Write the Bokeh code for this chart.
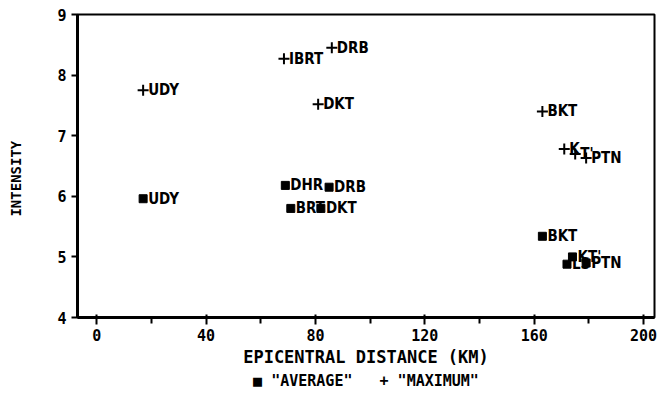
from bokeh.plotting import figure
from bokeh.models import ColumnDataSource, FixedTicker, Title
from bokeh.core.properties import value
from bokeh.embed import file_html
from bokeh.resources import INLINE

# Average intensity per station
avg_station = ["UDY", "DHR", "DRB", "BRT", "DKT", "BKT", "LS", "KT'", "PTN"]
avg_dist = [17, 69, 85, 71, 82, 163, 172, 174, 179]
avg_int = [5.96, 6.18, 6.15, 5.80, 5.80, 5.34, 4.88, 5.00, 4.90]

# Maximum intensity per station
max_station = ["UDY", "IBRT", "DRB", "DKT", "BKT", "K", "T'", "PTN"]
max_dist = [17, 68.5, 86, 81, 163, 171, 175, 179]
max_int = [7.75, 8.27, 8.45, 7.52, 7.40, 6.78, 6.70, 6.63]

x_ticks = [0, 40, 80, 120, 160, 200]
x_minor = [20, 60, 100, 140, 180]
y_ticks = [4, 5, 6, 7, 8, 9]

NB = "\u00a0"
key_text = "\u25a0" + NB + '"AVERAGE"' + NB * 3 + "+" + NB + '"MAXIMUM"'
y_title = "INTENSITY" + NB * 3

FONT = "DejaVu Sans Condensed"
MONO = "DejaVu Sans Mono"

avg_src = ColumnDataSource(dict(x=avg_dist, y=avg_int, name=avg_station))
max_src = ColumnDataSource(dict(x=max_dist, y=max_int, name=max_station))

p = figure(width=657, height=419, output_backend="svg", toolbar_location=None,
           x_range=(-7, 204), y_range=(4, 9),
           min_border_left=77, min_border_right=3, min_border_top=14, min_border_bottom=102)
p.grid.visible = False
p.background_fill_color = "white"
p.border_fill_color = "white"
p.outline_line_color = "black"
p.outline_line_width = 2

p.scatter("x", "y", source=avg_src, marker="square", size=8, color="black")
p.scatter("x", "y", source=max_src, marker="cross", size=11,
          line_color="black", line_width=2)

label_style = dict(text_font=value(FONT), text_font_style="bold", text_font_size="15px",
                   text_color="black", text_align="left", text_baseline="middle",
                   x_offset=5)
p.text("x", "y", text="name", source=avg_src, **label_style)
p.text("x", "y", text="name", source=max_src, **label_style)

xa = p.xaxis[0]
xa.ticker = FixedTicker(ticks=x_ticks, minor_ticks=x_minor)
xa.axis_label = "EPICENTRAL DISTANCE (KM)"
ya = p.yaxis[0]
ya.ticker = FixedTicker(ticks=y_ticks)
ya.axis_label = y_title

for ax in (xa, ya):
    ax.axis_line_width = 3
    ax.axis_line_color = "black"
    ax.major_tick_line_color = "black"
    ax.major_tick_line_width = 2
    ax.minor_tick_line_color = "black"
    ax.minor_tick_line_width = 2
    ax.major_label_text_font = MONO
    ax.major_label_text_font_style = "bold"
    ax.major_label_text_font_size = "15px"
    ax.major_label_text_color = "black"
    ax.axis_label_text_font = MONO
    ax.axis_label_text_font_style = "bold"
    ax.axis_label_text_color = "black"

xa.axis_label_text_font_size = "17px"
ya.axis_label_text_font_size = "14px"

xa.major_tick_out = 7
xa.major_tick_in = 3
xa.minor_tick_out = 6
xa.minor_tick_in = 0
xa.major_label_standoff = 4
xa.axis_label_standoff = 3

ya.major_tick_out = 6
ya.major_tick_in = 0
ya.minor_tick_out = 0
ya.minor_tick_in = 0
ya.major_label_standoff = 5
ya.axis_label_standoff = 30

# symbol key under the x-axis title
key = Title(text=key_text, align="center", text_font=MONO, text_font_style="bold",
            text_font_size="15px", text_color="black", standoff=0)
p.add_layout(key, "below")

open("out.html", "w").write(file_html(p, INLINE))
